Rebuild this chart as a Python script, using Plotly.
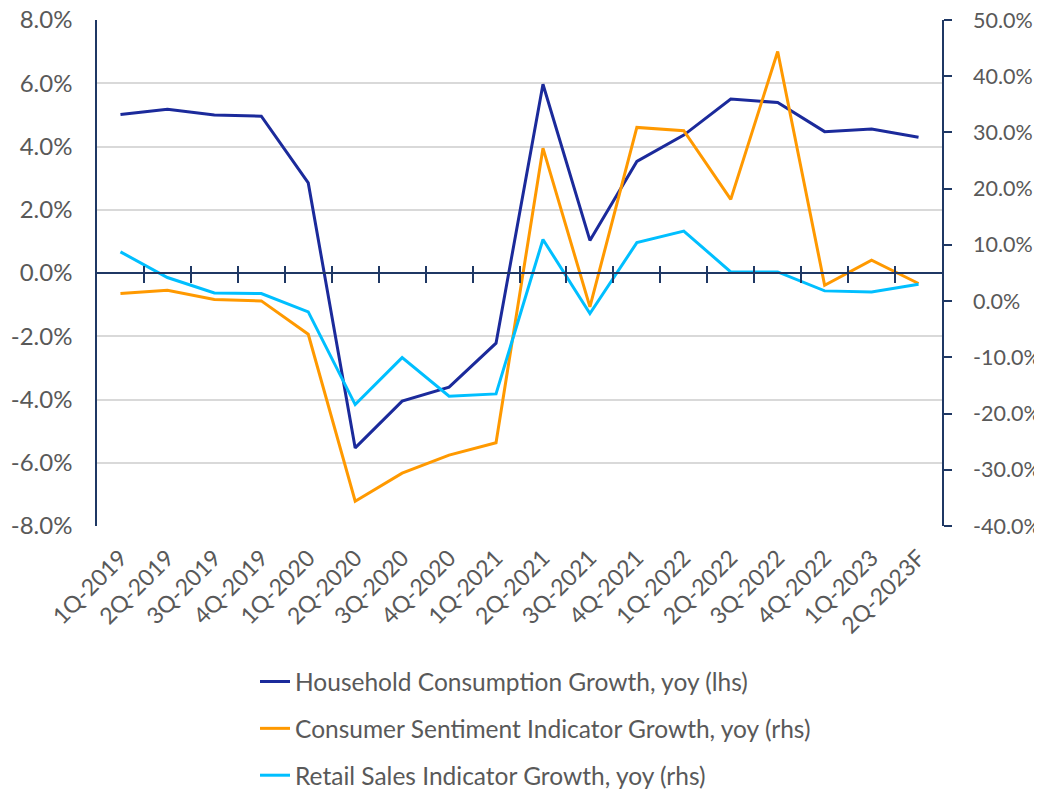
import plotly.graph_objects as go

categories = ["1Q-2019", "2Q-2019", "3Q-2019", "4Q-2019", "1Q-2020", "2Q-2020",
              "3Q-2020", "4Q-2020", "1Q-2021", "2Q-2021", "3Q-2021", "4Q-2021",
              "1Q-2022", "2Q-2022", "3Q-2022", "4Q-2022", "1Q-2023", "2Q-2023F"]

household = [5.01, 5.18, 5.00, 4.96, 2.85, -5.53, -4.05, -3.61, -2.22, 5.97,
             1.03, 3.53, 4.36, 5.50, 5.39, 4.47, 4.55, 4.29]
sentiment = [1.35, 1.94, 0.28, 0.04, -5.9, -35.6, -30.6, -27.4, -25.2, 27.2,
             -1.03, 30.9, 30.3, 18.1, 44.4, 2.83, 7.28, 3.13]
retail = [8.76, 4.2, 1.46, 1.35, -1.92, -18.4, -10.05, -16.9, -16.5, 10.97,
          -2.2, 10.4, 12.45, 5.2, 5.2, 1.82, 1.64, 3.0]

names = ["Household Consumption Growth, yoy (lhs)",
         "Consumer Sentiment Indicator Growth, yoy (rhs)",
         "Retail Sales Indicator Growth, yoy (rhs)"]
colors = ["#1B2A9B", "#FF9900", "#00BFFF"]

left_ticks = [-8, -6, -4, -2, 0, 2, 4, 6, 8]
left_labels = ["-8.0%", "-6.0%", "-4.0%", "-2.0%", "0.0%", "2.0%", "4.0%", "6.0%", "8.0%"]
right_ticks = [-40, -30, -20, -10, 0, 10, 20, 30, 40, 50]
right_labels = ["-40.0%", "-30.0%", "-20.0%", "-10.0%", "0.0%", "10.0%", "20.0%",
                "30.0%", "40.0%", "50.0%"]

FONT = "Lato"
GRAY = "#595959"
NAVY = "#1F3864"

fig = go.Figure()
fig.add_trace(go.Scatter(x=categories, y=household, name=names[0], mode="lines",
                         line=dict(color=colors[0], width=3), yaxis="y", legendgroup="a"))
fig.add_trace(go.Scatter(x=categories, y=sentiment, name=names[1], mode="lines",
                         line=dict(color=colors[1], width=3), yaxis="y2", legendgroup="b"))
fig.add_trace(go.Scatter(x=categories, y=retail, name=names[2], mode="lines",
                         line=dict(color=colors[2], width=3), yaxis="y2", legendgroup="c"))
# helper (empty) traces to register the zero-line axes
fig.add_trace(go.Scatter(x=[], y=[], xaxis="x2", yaxis="y", showlegend=False, hoverinfo="skip"))
fig.add_trace(go.Scatter(x=[], y=[], xaxis="x3", yaxis="y", showlegend=False, hoverinfo="skip"))

n = len(categories)
boundaries = [i + 0.5 for i in range(n - 1)]

fig.update_layout(
    width=1034, height=784,
    margin=dict(l=89, r=100, t=12, b=266, autoexpand=False),
    paper_bgcolor="white", plot_bgcolor="white",
    font=dict(family=FONT, color=GRAY, size=22),
    xaxis=dict(type="category", categoryarray=categories, range=[-0.5, n - 0.5],
               showline=False, ticks="", tickangle=-45, showgrid=False, zeroline=False,
               automargin=False, ticklabeloverflow="allow",
               tickfont=dict(family=FONT, size=23, color=GRAY), ticklabelstandoff=13),
    xaxis2=dict(overlaying="x", anchor="free", position=0.5, type="linear",
                range=[-0.5, n - 0.5], showline=True, linecolor=NAVY, linewidth=1.5,
                ticks="outside", ticklen=9, tickwidth=1.5, tickcolor=NAVY, automargin=False,
                tickvals=boundaries, showticklabels=False, showgrid=False, zeroline=False),
    xaxis3=dict(overlaying="x", anchor="free", position=0.5, type="linear",
                range=[-0.5, n - 0.5], showline=False, automargin=False,
                ticks="inside", ticklen=7, tickwidth=1.5, tickcolor=NAVY,
                tickvals=boundaries, showticklabels=False, showgrid=False, zeroline=False),
    yaxis=dict(range=[-8, 8], tickmode="array", tickvals=left_ticks, ticktext=left_labels,
               showline=True, linecolor=NAVY, linewidth=1.5, ticks="", automargin=False,
               showgrid=True, gridcolor="#D9D9D9", gridwidth=1.5, zeroline=False,
               ticklabeloverflow="allow",
               tickfont=dict(family=FONT, size=24, color=GRAY), ticklabelstandoff=18),
    yaxis2=dict(range=[-40, 50], tickmode="array", tickvals=right_ticks, ticktext=right_labels,
                overlaying="y", side="right", anchor="x", automargin=False,
                showline=True, linecolor=NAVY, linewidth=1.5,
                ticks="outside", ticklen=8, tickwidth=1.5, tickcolor=NAVY,
                showgrid=False, zeroline=False, ticklabeloverflow="allow",
                tickfont=dict(family=FONT, size=21.5, color=GRAY), ticklabelstandoff=17),
    legend=dict(orientation="v", x=0.187, xanchor="left", y=-0.263, yanchor="top",
                font=dict(family=FONT, size=24.5, color=GRAY), tracegroupgap=12,
                bgcolor="rgba(0,0,0,0)"),
    showlegend=True,
)

fig.write_html("out.html")
